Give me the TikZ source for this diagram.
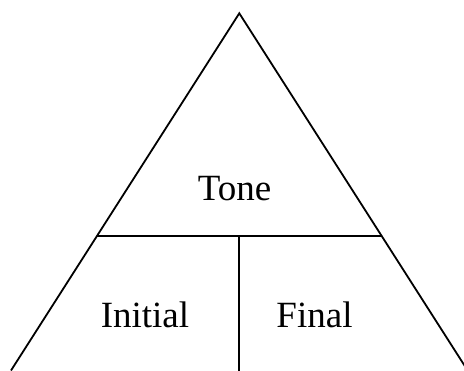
\documentclass[tikz,border=0pt]{standalone}
\usepackage{fontspec}
\setmainfont{Liberation Serif}
\begin{document}
\begin{tikzpicture}[x=1pt,y=-1pt,
  edge/.style={draw=black,line width=1.8pt},
  label/.style={inner sep=0pt,anchor=base,font=\fontsize{37}{40}\selectfont}]
\useasboundingbox (0,0) rectangle (464,371);
\clip (0,0) rectangle (464,371);
% corners of the triangle and the dividing lines
\coordinate (apex) at (239.3,13.3);
\coordinate (bl) at (11,370.5);
\coordinate (br) at (468,371);
\coordinate (ml) at (96.6,235.7);
\coordinate (mr) at (382,235.7);
\coordinate (mid) at (239.3,235.7);
\coordinate (bot) at (239.3,371);
\draw[edge,line join=miter] (bl) -- (apex) -- (br);
\draw[edge] (ml) -- (mr);
\draw[edge] (mid) -- (bot);
% labels
\node[label] (tone) at (234.5,200.7) {Tone};
\node[label] (initial) at (145,327.7) {Initial};
\node[label] (final) at (314.5,327.7) {Final};
\end{tikzpicture}
\end{document}
